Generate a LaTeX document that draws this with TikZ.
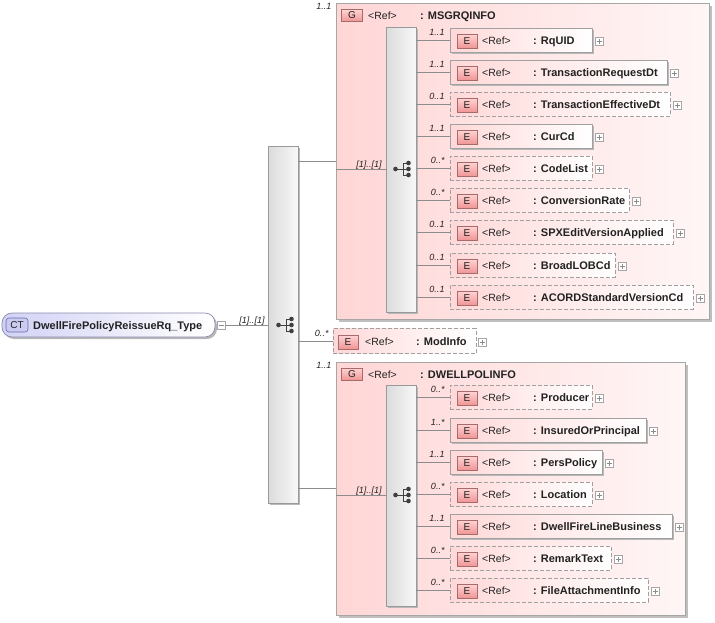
\documentclass[tikz,border=0pt]{standalone}
\usepackage{fontspec}
\setmainfont{Liberation Sans}
\usetikzlibrary{shadows}
\definecolor{grpL}{HTML}{FFD6D6}
\definecolor{grpR}{HTML}{FFF6F6}
\definecolor{elL}{HTML}{FFD8D8}
\definecolor{elBorder}{HTML}{A0A0A0}
\definecolor{badgeTop}{HTML}{FFD4D4}
\definecolor{badgeBot}{HTML}{F09595}
\definecolor{badgeBorder}{HTML}{A86A6A}
\definecolor{rootL}{HTML}{D2D2F6}
\definecolor{rootBorder}{HTML}{8A8AAE}
\definecolor{ctFill}{HTML}{CACAF2}
\definecolor{ctBorder}{HTML}{6A6AAA}
\definecolor{iconCol}{HTML}{404040}
\definecolor{txt}{HTML}{222222}
\tikzset{
  conn/.style={draw=black!45, line width=0.7pt},
  shad/.style={drop shadow={shadow xshift=2pt, shadow yshift=-2pt, fill=black!28, opacity=1}},
  elbase/.style={rectangle, draw=elBorder, line width=0.6pt, left color=elL, right color=white, minimum height=24pt, inner sep=0pt},
  solidel/.style={elbase, shad},
  dashel/.style={elbase, dash pattern=on 4pt off 2pt},
  ebadge/.style={rectangle, draw=badgeBorder, line width=0.6pt, top color=badgeTop, bottom color=badgeBot, minimum width=20pt, minimum height=14pt, inner sep=0pt, text=txt, font=\fontsize{10}{11}\selectfont},
  reftx/.style={inner sep=0pt, text=txt, font=\fontsize{10.5}{12}\selectfont},
  nametx/.style={inner sep=0pt, text=txt, font=\fontsize{11}{12}\selectfont\bfseries},
  mult/.style={inner sep=0pt, text=txt, font=\fontsize{9}{10}\selectfont\itshape},
  plusbox/.style={rectangle, draw=black!35, fill=white, minimum size=8pt, inner sep=0pt,
    path picture={\draw[black!45, line width=0.6pt]
      ([xshift=-2.5pt]path picture bounding box.center) -- ([xshift=2.5pt]path picture bounding box.center)
      ([yshift=-2.5pt]path picture bounding box.center) -- ([yshift=2.5pt]path picture bounding box.center);}},
  minusbox/.style={rectangle, draw=black!35, fill=white, minimum size=8pt, inner sep=0pt,
    path picture={\draw[black!45, line width=0.6pt]
      ([xshift=-2.5pt]path picture bounding box.center) -- ([xshift=2.5pt]path picture bounding box.center);}},
  grp/.style={rectangle, draw=black!35, line width=0.8pt, left color=grpL, right color=grpR, inner sep=0pt,
    drop shadow={shadow xshift=2.5pt, shadow yshift=-2.5pt, fill=black!25, opacity=1}},
  seqbar/.style={rectangle, draw=black!40, line width=0.6pt, left color=black!14, right color=black!3, inner sep=0pt, shad},
  rootnode/.style={rectangle, rounded corners=10pt, draw=rootBorder, line width=0.7pt, left color=rootL, right color=white, inner sep=0pt, shad},
  ctbadge/.style={rectangle, rounded corners=3pt, draw=ctBorder, line width=0.6pt, fill=ctFill, minimum width=22pt, minimum height=14pt, inner sep=0pt, text=txt, font=\fontsize{10}{11}\selectfont},
}
\newcommand\xel[7]{%
  \node[#5, minimum width={(#4-450)*1pt}] (#1) at ({(450+#4)/2},#3) {};
  \node[ebadge] (#1b) at (467,{#3+1}) {E};
  \node[reftx, anchor=base west] (#1r) at (482,{#3+4}) {<Ref>};
  \node[nametx, anchor=base west] (#1n) at (533,{#3+4}) {: #7};
  \node[plusbox] (#1p) at ({#4+7},{#3+1}) {};
  \draw[conn] (#2.east |- #1.west) -- (#1.west);
  \node[mult, anchor=base east] (#1m) at ([xshift=-5pt,yshift=5pt]#1.west) {#6};
}
\newcommand\seqicon[2]{%
  \draw[iconCol, line width=0.8pt] ({#1-6.5},#2) -- ({#1+1},#2)
    ({#1+1},{#2-6}) -- ({#1+1},{#2+6})
    ({#1+1},{#2-6}) -- ({#1+6.5},{#2-6})
    ({#1+1},{#2+6}) -- ({#1+6.5},{#2+6})
    ({#1+1},#2) -- ({#1+6.5},#2);
  \fill[iconCol] ({#1-6.5},#2) circle (2.3pt) ({#1+6.5},{#2-6}) circle (2.3pt)
    ({#1+6.5},#2) circle (2.3pt) ({#1+6.5},{#2+6}) circle (2.3pt);
}
\begin{document}
\begin{tikzpicture}[x=1pt,y=-1pt]
\useasboundingbox (0,0) rectangle (715,622);
% groups
\node[grp, minimum width=373pt, minimum height=316pt] (g1) at (522.5,161) {};
\node[grp, minimum width=349pt, minimum height=253pt] (g2) at (510.5,488.5) {};
% bars
\node[seqbar, minimum width=30pt, minimum height=357pt] (bar0) at (283,324.5) {};
\node[seqbar, minimum width=30pt, minimum height=285pt] (bar1) at (401,169.5) {};
\node[seqbar, minimum width=30pt, minimum height=221pt] (bar2) at (401,495.5) {};
\seqicon{285}{325}
\seqicon{402}{169}
\seqicon{402}{495}
% root
\node[rootnode, minimum width=213pt, minimum height=24pt] (root) at (108.5,325) {};
\node[ctbadge] (ct) at (17,325) {CT};
\node[nametx, anchor=base west] (rootn) at (33,329) {DwellFirePolicyReissueRq\_Type};
\node[minusbox] (rootm) at (221,325) {};
\draw[conn] (rootm.east) -- (bar0.west |- rootm.east);
\path (bar0.west |- root.east) coordinate (c0);
\node[mult, anchor=base east] (c0m) at ([xshift=-3pt,yshift=2pt]c0) {[1]..[1]};
% group connectors
\draw[conn] (bar0.east |- g1.west) -- (g1.west);
\draw[conn] (g1.west |- bar1.west) -- (bar1.west);
\node[mult, anchor=base east] (g1m) at ([xshift=-4pt,yshift=2pt]bar1.west) {[1]..[1]};
\node[mult, anchor=north east] (g1o) at ([xshift=-4pt,yshift=-1pt]g1.north west) {1..1};
\draw[conn] (bar0.east |- g2.west) -- (g2.west);
\draw[conn] (g2.west |- bar2.west) -- (bar2.west);
\node[mult, anchor=base east] (g2m) at ([xshift=-4pt,yshift=2pt]bar2.west) {[1]..[1]};
\node[mult, anchor=north east] (g2o) at ([xshift=-4pt,yshift=-1pt]g2.north west) {1..1};
% group titles
\node[ebadge, minimum width=21pt, minimum height=12pt] (g1b) at (352,15.5) {G};
\node[reftx, anchor=base west] (g1r) at (368,19.5) {<Ref>};
\node[nametx, anchor=base west] (g1n) at (420,19.5) {: MSGRQINFO};
\node[ebadge, minimum width=21pt, minimum height=12pt] (g2b) at (352,374) {G};
\node[reftx, anchor=base west] (g2r) at (368,378) {<Ref>};
\node[nametx, anchor=base west] (g2n) at (420,378) {: DWELLPOLINFO};
% ModInfo
\node[dashel, minimum width=143pt, minimum height=25pt] (mod) at (404.5,341) {};
\node[ebadge] (modb) at (348,342) {E};
\node[reftx, anchor=base west] (modr) at (365,345) {<Ref>};
\node[nametx, anchor=base west] (modn) at (416,345) {: ModInfo};
\node[plusbox] (modp) at (482,342) {};
\draw[conn] (bar0.east |- mod.west) -- (mod.west);
\node[mult, anchor=base east] (modm) at ([xshift=-4pt,yshift=5pt]mod.west) {0..*};
% group 1 elements
\xel{a1}{bar1}{40}{592}{solidel}{1..1}{RqUID}
\xel{a2}{bar1}{72}{667}{solidel}{1..1}{TransactionRequestDt}
\xel{a3}{bar1}{104}{670}{dashel}{0..1}{TransactionEffectiveDt}
\xel{a4}{bar1}{136}{592}{solidel}{1..1}{CurCd}
\xel{a5}{bar1}{168}{592}{dashel}{0..*}{CodeList}
\xel{a6}{bar1}{200}{629}{dashel}{0..*}{ConversionRate}
\xel{a7}{bar1}{232}{673}{dashel}{0..1}{SPXEditVersionApplied}
\xel{a8}{bar1}{265}{615}{dashel}{0..1}{BroadLOBCd}
\xel{a9}{bar1}{297}{693}{dashel}{0..1}{ACORDStandardVersionCd}
% group 2 elements
\xel{b1}{bar2}{397}{592}{dashel}{0..*}{Producer}
\xel{b2}{bar2}{430}{646}{solidel}{1..*}{InsuredOrPrincipal}
\xel{b3}{bar2}{462}{602}{solidel}{1..1}{PersPolicy}
\xel{b4}{bar2}{494}{592}{dashel}{0..*}{Location}
\xel{b5}{bar2}{526}{672}{solidel}{1..1}{DwellFireLineBusiness}
\xel{b6}{bar2}{558}{611}{dashel}{0..*}{RemarkText}
\xel{b7}{bar2}{590}{648}{dashel}{0..*}{FileAttachmentInfo}
\end{tikzpicture}
\end{document}
